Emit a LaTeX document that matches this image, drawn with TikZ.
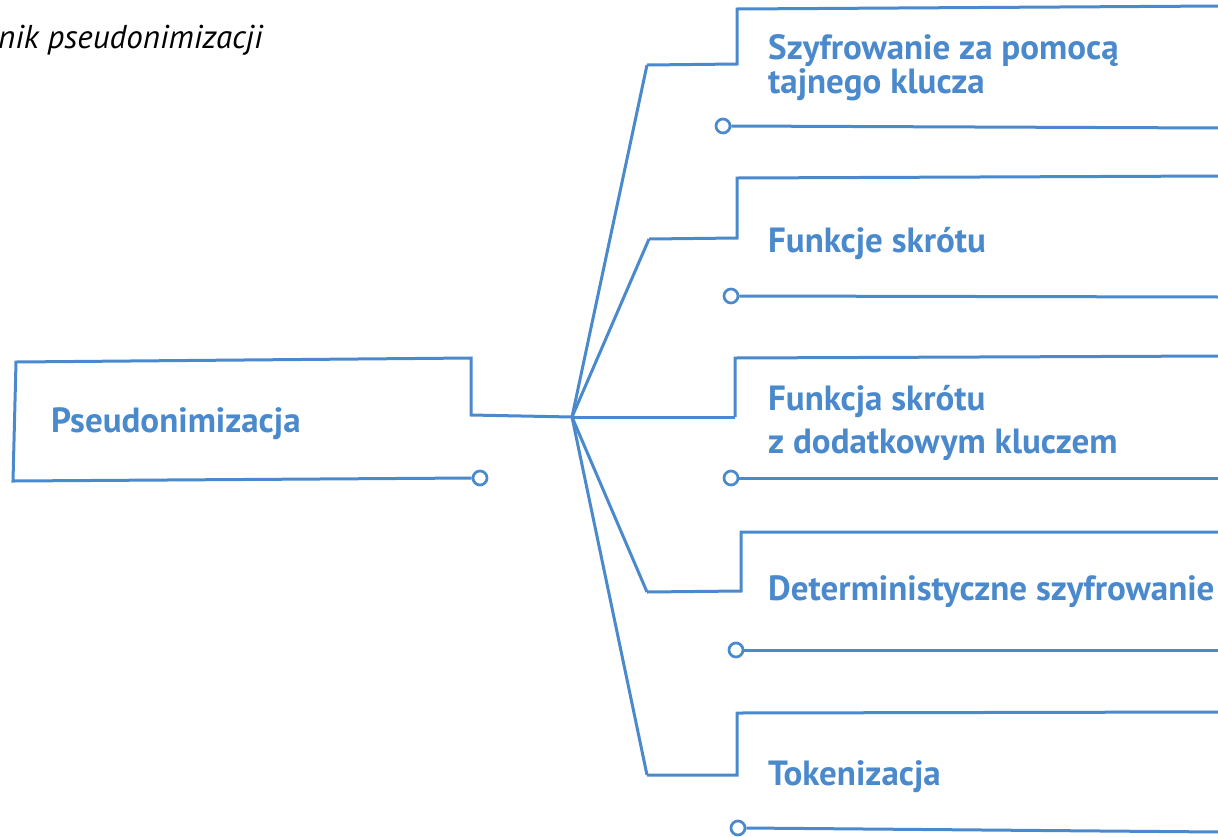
\documentclass[tikz,border=0pt]{standalone}
\usepackage{fontspec}
\setmainfont{PT Sans}
\usepackage{tikz}
\usetikzlibrary{positioning}
\definecolor{pblue}{RGB}{74,137,204}
\tikzset{
  frame/.style={draw=pblue, line width=3pt, line join=miter},
  knob/.style={circle, draw=pblue, fill=white, line width=2.7pt, inner sep=0pt, minimum size=14pt},
  label/.style={text=pblue, font=\fontsize{35}{34}\selectfont\bfseries, anchor=base west, align=left, inner sep=0pt}
}

\begin{document}
\begin{tikzpicture}[x=1pt, y=-1pt]
        \useasboundingbox (0,0) rectangle (1218,836);
        \node [anchor=base west, inner sep=0pt, font=\fontsize{33}{36}\selectfont\itshape] (T) at (-2,48) {nik pseudonimizacji};
        % left box
        \coordinate (J) at (572,417);
        \node [label] (P) at (51,432) {Pseudonimizacja};
        \node [knob] (K0) at (480,478) {};
        \draw [frame] (J) -- (471,415) -- (471,358) -- (16,362) -- (13,481) -- (K0.west);
        % right boxes
        \coordinate (B1) at (647,65);
        \coordinate (B2) at (649,239);
        \coordinate (B3) at (735,417);
        \coordinate (B4) at (647,592);
        \coordinate (B5) at (647,775);
        \draw [frame] (J) -- (B1);
        \draw [frame] (J) -- (B2);
        \draw [frame] (J) -- (B3);
        \draw [frame] (J) -- (B4);
        \draw [frame] (J) -- (B5);
        \draw [frame] (B1) -- (737,64) -- (737,9) -- (1220,6);
        \draw [frame] (B2) -- (737,238) -- (737,178) -- (1220,176);
        \draw [frame] (B3) -- (735,358) -- (1220,356);
        \draw [frame] (B4) -- (741,591) -- (741,532) -- (1220,532);
        \draw [frame] (B5) -- (737,775) -- (737,713) -- (1220,712);
        \node [knob] (K1) at (723,126) {};
        \node [knob] (K2) at (731,296) {};
        \node [knob] (K3) at (731,478) {};
        \node [knob] (K4) at (736,650) {};
        \node [knob] (K5) at (738,828) {};
        \draw [frame] (K1.east) -- (1220,128);
        \draw [frame] (K2.east) -- (1220,297);
        \draw [frame] (K3.east) -- (1220,478);
        \draw [frame] (K4.east) -- (1220,650);
        \draw [frame] (K5.east) -- (1220,832);
        % last line sits on the given baseline
        \node [label] (S1) at (768,93) {Szyfrowanie za pomocą\\tajnego klucza};
        \node [label] (S2) at (768,252) {Funkcje skrótu};
        \node [label, font=\fontsize{35}{43}\selectfont\bfseries] (S3) at (768,453) {Funkcja skrótu\\z dodatkowym kluczem};
        \node [label] (S4) at (768,600) {Deterministyczne szyfrowanie};
        \node [label] (S5) at (768,785) {Tokenizacja};
\end{tikzpicture}
\end{document}
